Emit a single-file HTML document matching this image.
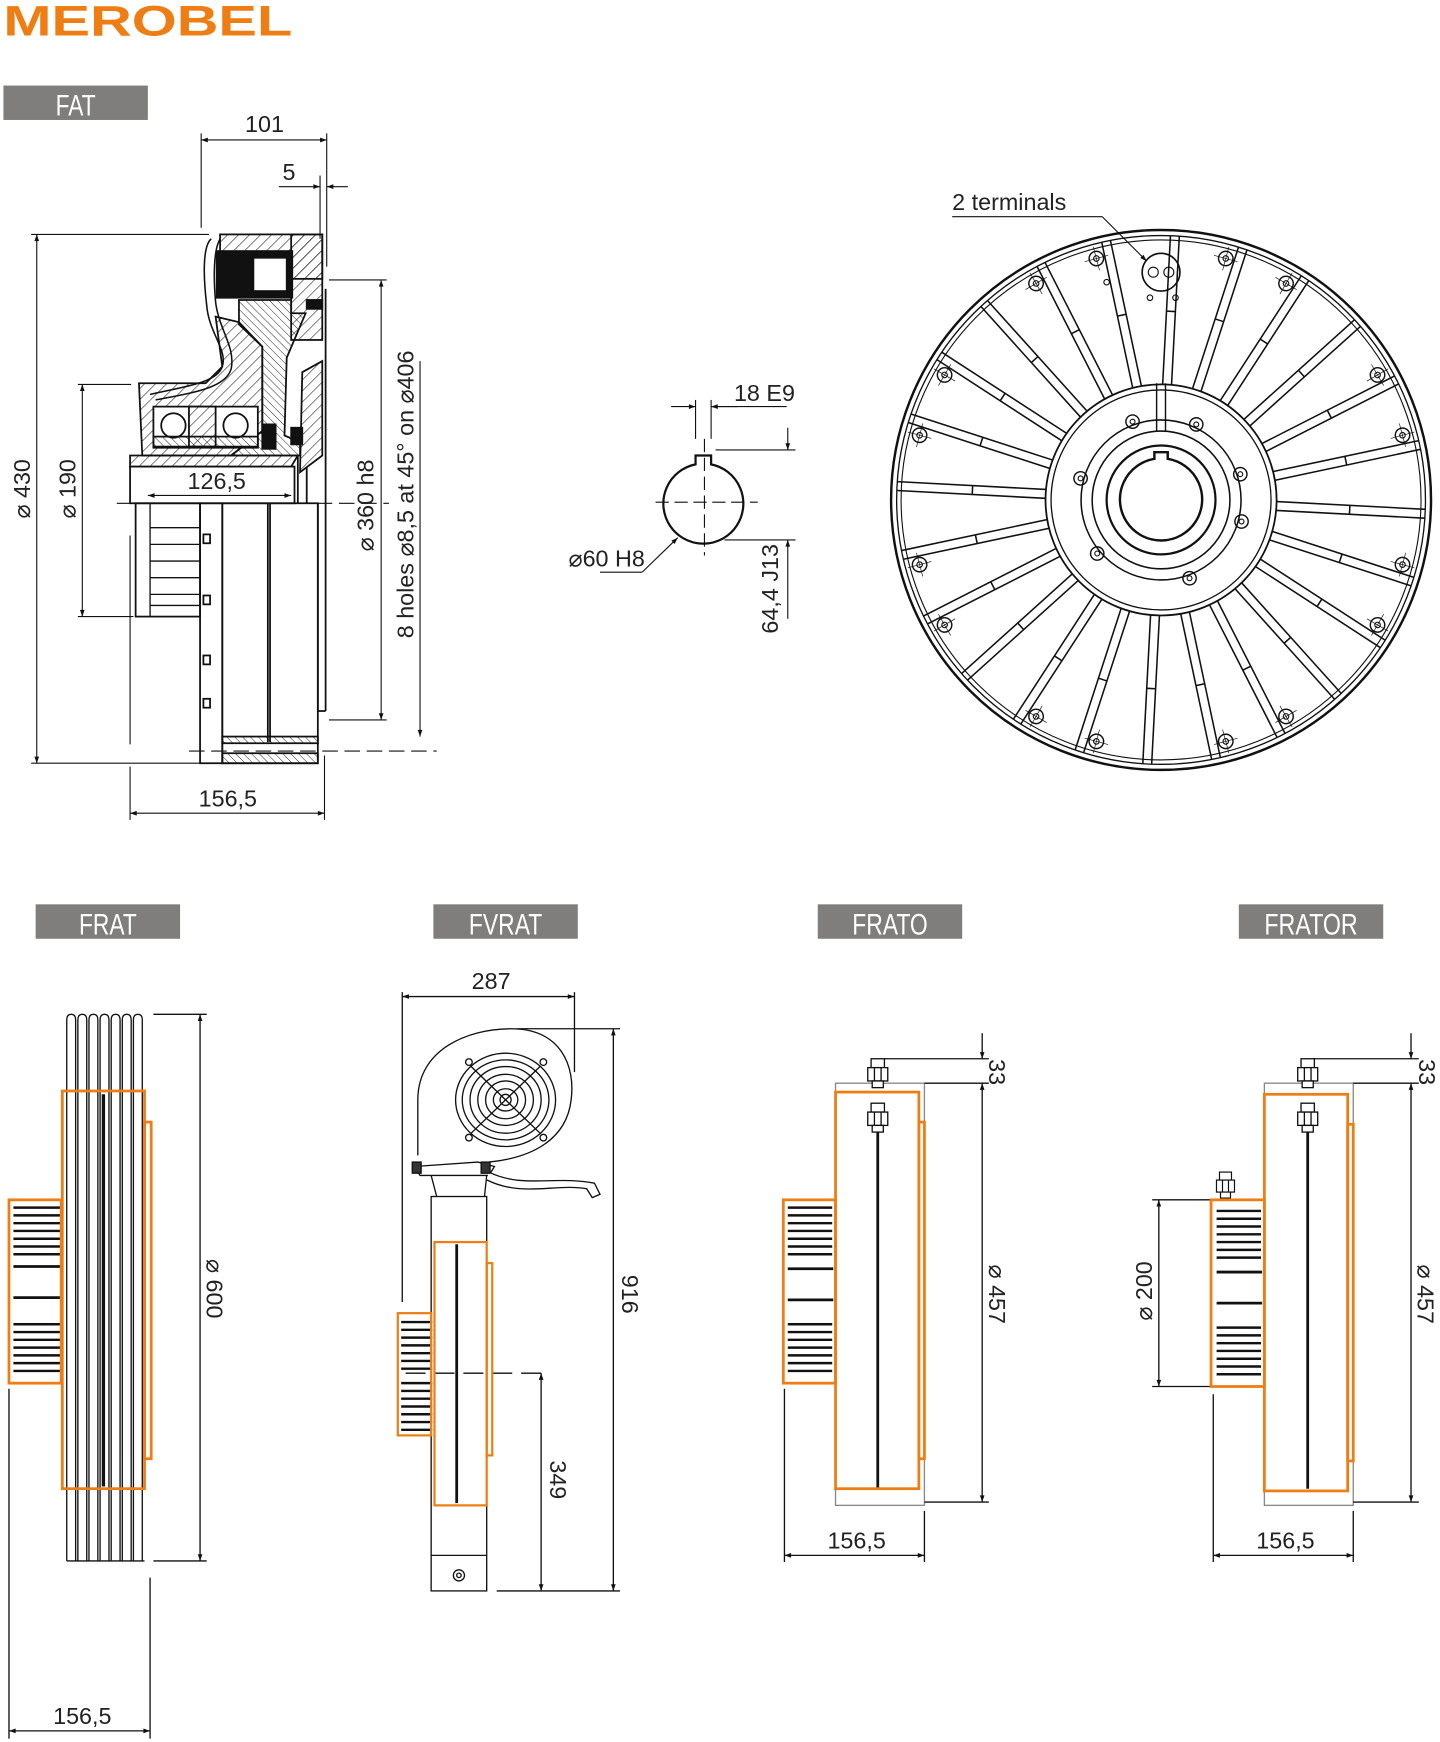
<!DOCTYPE html>
<html><head><meta charset="utf-8"><style>
html,body{margin:0;padding:0;background:#fff;width:1440px;height:1742px;overflow:hidden}
svg{display:block}
text{font-family:"Liberation Sans",sans-serif}
.d{font-family:"Liberation Sans Narrow","Liberation Sans",sans-serif;font-size:21px;fill:#222}
</style></head><body>
<svg width="1440" height="1742" viewBox="0 0 1296 1568" xmlns="http://www.w3.org/2000/svg">
<defs>
<pattern id="h" width="7" height="7" patternUnits="userSpaceOnUse" patternTransform="rotate(45)"><line x1="0" y1="0" x2="0" y2="7" stroke="#111" stroke-width="1"/></pattern>
<pattern id="h2" width="5" height="5" patternUnits="userSpaceOnUse" patternTransform="rotate(-45)"><line x1="0" y1="0" x2="0" y2="5" stroke="#111" stroke-width="0.8"/></pattern>
<marker id="a" viewBox="0 0 10 10" refX="10" refY="5" markerWidth="12" markerHeight="6" orient="auto-start-reverse" markerUnits="userSpaceOnUse"><path d="M0,1.5 L10,5 L0,8.5z" fill="#111"/></marker>
<g id="spoke" stroke="#111" stroke-width="1.4"><line x1="1041" y1="212" x2="1041" y2="348"/><line x1="1049" y1="212" x2="1049" y2="348"/><line x1="1041" y1="280" x2="1049" y2="280"/></g>
<g id="bolt" fill="none" stroke="#111"><circle cx="1045" cy="225" r="6.5" stroke-width="1.3"/><circle cx="1045" cy="225" r="2.5" stroke-width="1"/><line x1="1034" y1="225" x2="1056" y2="225" stroke-width=".6"/><line x1="1045" y1="214" x2="1045" y2="236" stroke-width=".6"/></g>
<g id="hb" fill="none" stroke="#111"><circle cx="1045" cy="375" r="6" stroke-width="1.3"/><circle cx="1045" cy="375" r="2.2" stroke-width="1"/></g>
<g id="stripes" stroke="#111" stroke-width="2.2"><line x1="0" y1="5" x2="40" y2="5"/><line x1="0" y1="12" x2="40" y2="12"/><line x1="0" y1="19" x2="40" y2="19"/><line x1="0" y1="26" x2="40" y2="26"/><line x1="0" y1="33" x2="40" y2="33"/><line x1="0" y1="40" x2="40" y2="40"/><line x1="0" y1="47" x2="40" y2="47"/></g>
<g id="nut" stroke="#111" stroke-width="1.2" fill="#fff"><rect x="-6" y="0" width="12" height="8"/><rect x="-9" y="8" width="18" height="12"/><line x1="-3" y1="8" x2="-3" y2="20"/><line x1="3" y1="8" x2="3" y2="20"/><rect x="-5" y="20" width="10" height="6"/></g>
</defs>

<!-- Logo -->
<text x="3" y="32" font-size="38" font-weight="bold" fill="#ee7d14" textLength="260" lengthAdjust="spacingAndGlyphs">MEROBEL</text>

<!-- Labels -->
<g font-size="27" fill="#fff" text-anchor="middle">
<rect x="3" y="77" width="130" height="31" fill="#7f7e7c"/><text x="68" y="104" textLength="36" lengthAdjust="spacingAndGlyphs">FAT</text>
<rect x="32" y="814" width="130" height="31" fill="#7f7e7c"/><text x="97" y="841" textLength="52" lengthAdjust="spacingAndGlyphs">FRAT</text>
<rect x="390" y="814" width="130" height="31" fill="#7f7e7c"/><text x="455" y="841" textLength="66" lengthAdjust="spacingAndGlyphs">FVRAT</text>
<rect x="736" y="814" width="130" height="31" fill="#7f7e7c"/><text x="801" y="841" textLength="68" lengthAdjust="spacingAndGlyphs">FRATO</text>
<rect x="1115" y="814" width="130" height="31" fill="#7f7e7c"/><text x="1180" y="841" textLength="84" lengthAdjust="spacingAndGlyphs">FRATOR</text>
</g>

<!-- ===== FAT section ===== -->
<g stroke="#111" stroke-width="1" fill="none">
<!-- dimension lines -->
<line x1="181" y1="120" x2="181" y2="205"/><line x1="294" y1="120" x2="294" y2="240"/><line x1="288" y1="158" x2="288" y2="215"/>
<line x1="181" y1="126" x2="294" y2="126" marker-start="url(#a)" marker-end="url(#a)"/>
<line x1="251" y1="168" x2="288" y2="168" marker-end="url(#a)"/><line x1="313" y1="168" x2="294" y2="168" marker-end="url(#a)"/>
<line x1="28" y1="211" x2="188" y2="211"/><line x1="28" y1="687" x2="195" y2="687"/>
<line x1="33" y1="211" x2="33" y2="687" marker-start="url(#a)" marker-end="url(#a)"/>
<line x1="70" y1="346" x2="118" y2="346"/><line x1="70" y1="555" x2="120" y2="555"/>
<line x1="74" y1="346" x2="74" y2="555" marker-start="url(#a)" marker-end="url(#a)"/>
<line x1="133" y1="446" x2="262" y2="446" marker-start="url(#a)" marker-end="url(#a)"/>
<line x1="117" y1="482" x2="117" y2="670"/><line x1="117" y1="690" x2="117" y2="738"/><line x1="292" y1="680" x2="292" y2="738"/>
<line x1="117" y1="732" x2="292" y2="732" marker-start="url(#a)" marker-end="url(#a)"/>
<line x1="296" y1="252" x2="348" y2="252"/><line x1="296" y1="648" x2="348" y2="648"/>
<line x1="343" y1="252" x2="343" y2="648" marker-start="url(#a)" marker-end="url(#a)"/>
<line x1="378" y1="325" x2="378" y2="663" marker-end="url(#a)"/>
<line x1="105" y1="453" x2="350" y2="453" stroke-dasharray="14,6"/>
<line x1="170" y1="676" x2="393" y2="676" stroke-dasharray="14,6"/>

<!-- body -->
<g stroke-width="1.6">
<rect x="198" y="211" width="92" height="40" fill="url(#h)"/>
<rect x="262" y="211" width="28" height="95" fill="url(#h)"/>
<rect x="195" y="226" width="68" height="42" fill="#111"/>
<rect x="228" y="232" width="30" height="30" fill="#fff"/>
<path d="M190,215 C182,222 183,250 186,275 C188,300 205,315 200,330 C195,345 165,348 135,355" stroke-width="1.4"/>
<path d="M198,215 C192,225 192,250 194,272 C197,297 212,312 208,332 C203,350 170,354 140,360" stroke-width="1.4"/>
<polygon points="215,270 262,270 262,282 275,282 258,322 256,392 270,398 270,410 208,410 236,388 236,312 215,292" fill="url(#h2)"/>
<polygon points="194,285 215,290 236,312 236,388 208,410 128,410 125,345 185,345 200,330" fill="url(#h)"/>
<rect x="138" y="366" width="94" height="36" fill="#fff"/>
<rect x="170" y="366" width="24" height="36" fill="url(#h)"/>
<circle cx="156" cy="383" r="11" fill="#fff"/><circle cx="212" cy="383" r="11" fill="#fff"/>
<rect x="138" y="393" width="94" height="10" fill="url(#h2)"/>
<rect x="236" y="382" width="12" height="22" fill="#111"/>
<rect x="262" y="385" width="10" height="15" fill="#111"/>
<rect x="276" y="270" width="14" height="8" fill="#111"/>
<polygon points="272,335 290,325 290,410 270,425" fill="url(#h)"/>
<polygon points="117,410 268,410 262,420 117,420" fill="url(#h)"/>
<rect x="117" y="420" width="148" height="33"/>
<line x1="268" y1="410" x2="268" y2="453"/><line x1="276" y1="420" x2="276" y2="453"/>
<rect x="122" y="453" width="58" height="102"/>
<g stroke-width="1.2"><line x1="135" y1="453" x2="135" y2="555"/><line x1="135" y1="475" x2="180" y2="475"/><line x1="135" y1="490" x2="180" y2="490"/><line x1="135" y1="505" x2="180" y2="505"/><line x1="135" y1="520" x2="180" y2="520"/><line x1="135" y1="535" x2="180" y2="535"/><line x1="135" y1="545" x2="180" y2="545"/></g>
<rect x="180" y="453" width="20" height="234"/>
<rect x="183" y="481" width="6" height="8"/><rect x="183" y="536" width="6" height="8"/><rect x="183" y="590" width="6" height="8"/><rect x="183" y="629" width="6" height="8"/>
<rect x="200" y="453" width="86" height="234"/>
<line x1="241" y1="453" x2="241" y2="668"/><line x1="243" y1="453" x2="243" y2="668"/>
<rect x="200" y="663" width="86" height="6" fill="url(#h2)"/>
<rect x="200" y="678" width="86" height="9" fill="url(#h2)"/>
<line x1="286" y1="453" x2="286" y2="640"/><line x1="286" y1="640" x2="293" y2="640"/><line x1="293" y1="260" x2="293" y2="640"/>
</g>
</g>
<g class="d">
<text x="238" y="119" text-anchor="middle">101</text>
<text x="260" y="162" text-anchor="middle">5</text>
<text x="195" y="440" text-anchor="middle">126,5</text>
<text x="205" y="726" text-anchor="middle">156,5</text>
<text transform="translate(27,440) rotate(-90)" text-anchor="middle">⌀ 430</text>
<text transform="translate(68,440) rotate(-90)" text-anchor="middle">⌀ 190</text>
<text transform="translate(336,455) rotate(-90)" text-anchor="middle">⌀ 360 h8</text>
<text transform="translate(372,445) rotate(-90)" text-anchor="middle">8 holes  ⌀8,5 at 45° on ⌀406</text>
</g>

<!-- ===== keyway ===== -->
<g stroke="#111" fill="none" stroke-width="1">
<path d="M626,418 A36,36 0 1 0 640,418 L640,410 L626,410 Z" stroke-width="2"/>
<line x1="626" y1="360" x2="626" y2="395"/><line x1="640" y1="360" x2="640" y2="395"/>
<line x1="604" y1="366" x2="626" y2="366" marker-end="url(#a)"/><line x1="664" y1="366" x2="640" y2="366" marker-end="url(#a)"/><line x1="640" y1="366" x2="708" y2="366"/>
<line x1="634" y1="395" x2="634" y2="500" stroke-dasharray="12,5"/>
<line x1="590" y1="452" x2="682" y2="452" stroke-dasharray="12,5"/>
<line x1="644" y1="405" x2="716" y2="405"/><line x1="652" y1="486" x2="716" y2="486"/>
<line x1="709" y1="385" x2="709" y2="405" marker-end="url(#a)"/><line x1="709" y1="557" x2="709" y2="486" marker-end="url(#a)"/>
<line x1="540" y1="515" x2="578" y2="515"/><line x1="578" y1="515" x2="610" y2="484" marker-end="url(#a)"/>
</g>
<g class="d">
<text x="688" y="361" text-anchor="middle">18 E9</text>
<text x="546" y="510" text-anchor="middle">⌀60 H8</text>
<text transform="translate(700,530) rotate(-90)" text-anchor="middle">64,4 J13</text>
</g>

<!-- ===== wheel front ===== -->
<g fill="none" stroke="#111">
<circle cx="1045" cy="450" r="243" stroke-width="2.2"/>
<circle cx="1045" cy="450" r="238" stroke-width="1.2"/>
<circle cx="1045" cy="450" r="234" stroke-width="1"/>
<g>
<use href="#spoke" transform="rotate(3 1045 450)"/><use href="#spoke" transform="rotate(18 1045 450)"/><use href="#spoke" transform="rotate(33 1045 450)"/><use href="#spoke" transform="rotate(48 1045 450)"/><use href="#spoke" transform="rotate(63 1045 450)"/><use href="#spoke" transform="rotate(78 1045 450)"/><use href="#spoke" transform="rotate(93 1045 450)"/><use href="#spoke" transform="rotate(108 1045 450)"/><use href="#spoke" transform="rotate(123 1045 450)"/><use href="#spoke" transform="rotate(138 1045 450)"/><use href="#spoke" transform="rotate(153 1045 450)"/><use href="#spoke" transform="rotate(168 1045 450)"/><use href="#spoke" transform="rotate(183 1045 450)"/><use href="#spoke" transform="rotate(198 1045 450)"/><use href="#spoke" transform="rotate(213 1045 450)"/><use href="#spoke" transform="rotate(228 1045 450)"/><use href="#spoke" transform="rotate(243 1045 450)"/><use href="#spoke" transform="rotate(258 1045 450)"/><use href="#spoke" transform="rotate(273 1045 450)"/><use href="#spoke" transform="rotate(288 1045 450)"/><use href="#spoke" transform="rotate(303 1045 450)"/><use href="#spoke" transform="rotate(318 1045 450)"/><use href="#spoke" transform="rotate(333 1045 450)"/><use href="#spoke" transform="rotate(348 1045 450)"/>
</g>
<g>
<use href="#bolt" transform="rotate(-15 1045 450)"/><use href="#bolt" transform="rotate(15 1045 450)"/><use href="#bolt" transform="rotate(-30 1045 450)"/><use href="#bolt" transform="rotate(30 1045 450)"/><use href="#bolt" transform="rotate(-60 1045 450)"/><use href="#bolt" transform="rotate(60 1045 450)"/><use href="#bolt" transform="rotate(-75 1045 450)"/><use href="#bolt" transform="rotate(75 1045 450)"/><use href="#bolt" transform="rotate(-105 1045 450)"/><use href="#bolt" transform="rotate(105 1045 450)"/><use href="#bolt" transform="rotate(-120 1045 450)"/><use href="#bolt" transform="rotate(120 1045 450)"/><use href="#bolt" transform="rotate(-150 1045 450)"/><use href="#bolt" transform="rotate(150 1045 450)"/><use href="#bolt" transform="rotate(-165 1045 450)"/><use href="#bolt" transform="rotate(165 1045 450)"/>
</g>
<circle cx="1045" cy="450" r="104" fill="#fff" stroke-width="1.6"/>
<circle cx="1045" cy="450" r="99" stroke-width="1.2"/>
<circle cx="1045" cy="450" r="72" stroke-width="1.4"/>
<circle cx="1045" cy="450" r="62" stroke-width="1.4"/>
<circle cx="1045" cy="450" r="49" stroke-width="2"/>
<path d="M1039,413 L1039,407 L1051,407 L1051,413 A37,37 0 1 1 1039,413 Z" stroke-width="2.2"/>
<line x1="1041" y1="345" x2="1041" y2="388" stroke-width="1.3"/><line x1="1049" y1="345" x2="1049" y2="388" stroke-width="1.3"/>
<use href="#hb" transform="rotate(-20 1045 450)"/><use href="#hb" transform="rotate(25 1045 450)"/><use href="#hb" transform="rotate(-75 1045 450)"/><use href="#hb" transform="rotate(105 1045 450)"/><use href="#hb" transform="rotate(160 1045 450)"/><use href="#hb" transform="rotate(-130 1045 450)"/><use href="#hb" transform="rotate(72 1045 450)"/>
<circle cx="1045" cy="245" r="17" stroke-width="1.5"/><circle cx="1038" cy="245" r="4.5"/><circle cx="1052" cy="245" r="4.5"/>
<circle cx="996" cy="254" r="2.5"/><circle cx="1035" cy="268" r="2.5"/><circle cx="1058" cy="268" r="2.5"/>
<line x1="857" y1="195" x2="992" y2="195" stroke-width="1"/><line x1="992" y1="195" x2="1032" y2="235" stroke-width="1" marker-end="url(#a)"/>
</g>
<text class="d" x="857" y="189">2 terminals</text>

<!-- ===== FRAT ===== -->
<g stroke="#111" fill="none" stroke-width="1.2">
<path d="M60,1405 V918 Q60,913 64,913 Q68,913 68,918 V1405 M70,1405 V918 Q70,913 74,913 Q78,913 78,918 V1405 M80,1405 V918 Q80,913 84,913 Q88,913 88,918 V1405 M90,1405 V918 Q90,913 94,913 Q98,913 98,918 V1405 M100,1405 V918 Q100,913 104,913 Q108,913 108,918 V1405 M110,1405 V918 Q110,913 114,913 Q118,913 118,918 V1405 M120,1405 V918 Q120,913 124,913 Q128,913 128,918 V1405"/>
<line x1="60" y1="1405" x2="130" y2="1405"/>
<line x1="93" y1="985" x2="93" y2="1338" stroke-width="3"/>
<line x1="138" y1="913" x2="186" y2="913"/><line x1="138" y1="1405" x2="186" y2="1405"/>
<line x1="180" y1="913" x2="180" y2="1405" marker-start="url(#a)" marker-end="url(#a)"/>
<line x1="8" y1="1250" x2="8" y2="1565"/><line x1="135" y1="1420" x2="135" y2="1565"/>
<line x1="8" y1="1558" x2="135" y2="1558" marker-start="url(#a)" marker-end="url(#a)"/>
</g>
<use href="#stripes" transform="translate(12,1082) scale(1.05,1)"/>
<use href="#stripes" transform="translate(12,1187) scale(1.05,1)"/>
<line x1="12" y1="1140" x2="55" y2="1140" stroke="#111" stroke-width="2.5"/>
<line x1="12" y1="1168" x2="55" y2="1168" stroke="#111" stroke-width="2.5"/>
<g stroke="#ee7d14" fill="none" stroke-width="2.5">
<rect x="56" y="982" width="74" height="358"/>
<rect x="130" y="1010" width="6" height="303"/>
<rect x="8" y="1080" width="47" height="165"/>
</g>
<g class="d">
<text transform="translate(186,1160) rotate(90)" text-anchor="middle">⌀ 600</text>
<text x="74" y="1552" text-anchor="middle">156,5</text>
</g>

<!-- ===== FVRAT ===== -->
<g stroke="#111" fill="none" stroke-width="1.2">
<line x1="362" y1="893" x2="362" y2="1172"/><line x1="517" y1="893" x2="517" y2="965"/>
<line x1="362" y1="897" x2="517" y2="897" marker-start="url(#a)" marker-end="url(#a)"/>
<line x1="465" y1="926" x2="558" y2="926"/><line x1="447" y1="1432" x2="558" y2="1432"/>
<line x1="552" y1="926" x2="552" y2="1432" marker-start="url(#a)" marker-end="url(#a)"/>
<line x1="487" y1="1236" x2="487" y2="1432" marker-start="url(#a)" marker-end="url(#a)"/>
<line x1="365" y1="1236" x2="495" y2="1236" stroke-dasharray="18,8"/>
<path d="M376,1040 V990 C376,945 420,926 460,926 C505,926 518,960 514,990 C510,1025 480,1042 440,1046"/>
<ellipse cx="455" cy="990" rx="45" ry="42"/><ellipse cx="455" cy="990" rx="39" ry="36"/><ellipse cx="455" cy="990" rx="32" ry="30"/><ellipse cx="455" cy="990" rx="25" ry="23"/><ellipse cx="455" cy="990" rx="18" ry="17"/><ellipse cx="455" cy="990" rx="11" ry="10"/><ellipse cx="455" cy="990" rx="5" ry="5"/>
<line x1="424" y1="960" x2="486" y2="1020"/><line x1="486" y1="960" x2="424" y2="1020"/>
<circle cx="422" cy="956" r="3"/><circle cx="489" cy="956" r="3"/><circle cx="422" cy="1024" r="3"/><circle cx="489" cy="1024" r="3"/>
<path d="M373,1050 L430,1046 L445,1050 L440,1058 L378,1058 Z"/>
<path d="M388,1058 L393,1077 M438,1058 L436,1077"/>
<path d="M440,1055 C470,1070 500,1058 535,1065 L540,1075 L533,1078 L528,1070 C500,1065 470,1078 438,1062" fill="#fff"/>
<rect x="371" y="1046" width="8" height="10" fill="#333"/><rect x="433" y="1046" width="8" height="10" fill="#333"/>
<rect x="388" y="1077" width="50" height="355"/>
<line x1="388" y1="1400" x2="438" y2="1400"/>
<circle cx="413" cy="1418" r="5"/><circle cx="413" cy="1418" r="2"/>
<line x1="411" y1="1120" x2="411" y2="1353" stroke-width="2.5"/>
</g>
<use href="#stripes" transform="translate(361,1185) scale(.7,1)"/>
<use href="#stripes" transform="translate(361,1240) scale(.7,1)"/>
<g stroke="#ee7d14" fill="none" stroke-width="2">
<rect x="391" y="1118" width="47" height="237"/>
<rect x="438" y="1137" width="5" height="173"/>
<rect x="358" y="1182" width="30" height="110"/>
</g>
<g class="d">
<text x="442" y="890" text-anchor="middle">287</text>
<text transform="translate(560,1165) rotate(90)" text-anchor="middle">916</text>
<text transform="translate(495,1332) rotate(90)" text-anchor="middle">349</text>
</g>

<!-- ===== FRATO ===== -->
<g stroke="#111" fill="none" stroke-width="1.2">
<rect x="752" y="975" width="80" height="380" stroke="#888"/>
<line x1="790" y1="995" x2="790" y2="1340" stroke-width="2.5"/>
<line x1="795" y1="953" x2="890" y2="953"/><line x1="832" y1="975" x2="890" y2="975"/><line x1="832" y1="1352" x2="890" y2="1352"/>
<line x1="884" y1="930" x2="884" y2="953" marker-end="url(#a)"/><line x1="884" y1="975" x2="884" y2="1352" marker-start="url(#a)" marker-end="url(#a)"/>
<line x1="706" y1="1250" x2="706" y2="1406"/><line x1="832" y1="1360" x2="832" y2="1406"/>
<line x1="706" y1="1400" x2="832" y2="1400" marker-start="url(#a)" marker-end="url(#a)"/>
</g>
<use href="#nut" transform="translate(790,953)"/><use href="#nut" transform="translate(790,993)"/>
<use href="#stripes" transform="translate(709,1082)"/><use href="#stripes" transform="translate(709,1187)"/>
<line x1="709" y1="1142" x2="750" y2="1142" stroke="#111" stroke-width="2.5"/><line x1="709" y1="1170" x2="750" y2="1170" stroke="#111" stroke-width="2.5"/>
<g stroke="#ee7d14" fill="none" stroke-width="2.5">
<rect x="752" y="983" width="75" height="357"/>
<rect x="827" y="1010" width="5" height="303"/>
<rect x="705" y="1080" width="47" height="165"/>
</g>
<g class="d">
<text transform="translate(890,965) rotate(90)" text-anchor="middle">33</text>
<text transform="translate(890,1165) rotate(90)" text-anchor="middle">⌀ 457</text>
<text x="771" y="1394" text-anchor="middle">156,5</text>
</g>

<!-- ===== FRATOR ===== -->
<g stroke="#111" fill="none" stroke-width="1.2">
<rect x="1138" y="975" width="80" height="380" stroke="#888"/>
<line x1="1177" y1="995" x2="1177" y2="1340" stroke-width="2.5"/>
<line x1="1182" y1="953" x2="1277" y2="953"/><line x1="1218" y1="975" x2="1277" y2="975"/><line x1="1218" y1="1352" x2="1277" y2="1352"/>
<line x1="1270" y1="930" x2="1270" y2="953" marker-end="url(#a)"/><line x1="1270" y1="975" x2="1270" y2="1352" marker-start="url(#a)" marker-end="url(#a)"/>
<line x1="1037" y1="1080" x2="1090" y2="1080"/><line x1="1037" y1="1248" x2="1090" y2="1248"/>
<line x1="1043" y1="1080" x2="1043" y2="1248" marker-start="url(#a)" marker-end="url(#a)"/>
<line x1="1092" y1="1255" x2="1092" y2="1406"/><line x1="1218" y1="1360" x2="1218" y2="1406"/>
<line x1="1092" y1="1400" x2="1218" y2="1400" marker-start="url(#a)" marker-end="url(#a)"/>
</g>
<use href="#nut" transform="translate(1177,953)"/><use href="#nut" transform="translate(1177,993)"/><use href="#nut" transform="translate(1103,1055) scale(.9)"/>
<use href="#stripes" transform="translate(1095,1085)"/><use href="#stripes" transform="translate(1095,1190)"/>
<line x1="1095" y1="1145" x2="1136" y2="1145" stroke="#111" stroke-width="2.5"/><line x1="1095" y1="1173" x2="1136" y2="1173" stroke="#111" stroke-width="2.5"/>
<g stroke="#ee7d14" fill="none" stroke-width="2.5">
<rect x="1138" y="985" width="75" height="357"/>
<rect x="1213" y="1012" width="5" height="303"/>
<rect x="1090" y="1080" width="48" height="168"/>
</g>
<g class="d">
<text transform="translate(1277,965) rotate(90)" text-anchor="middle">33</text>
<text transform="translate(1276,1165) rotate(90)" text-anchor="middle">⌀ 457</text>
<text transform="translate(1037,1162) rotate(-90)" text-anchor="middle">⌀ 200</text>
<text x="1157" y="1394" text-anchor="middle">156,5</text>
</g>
</svg>
</body></html>
